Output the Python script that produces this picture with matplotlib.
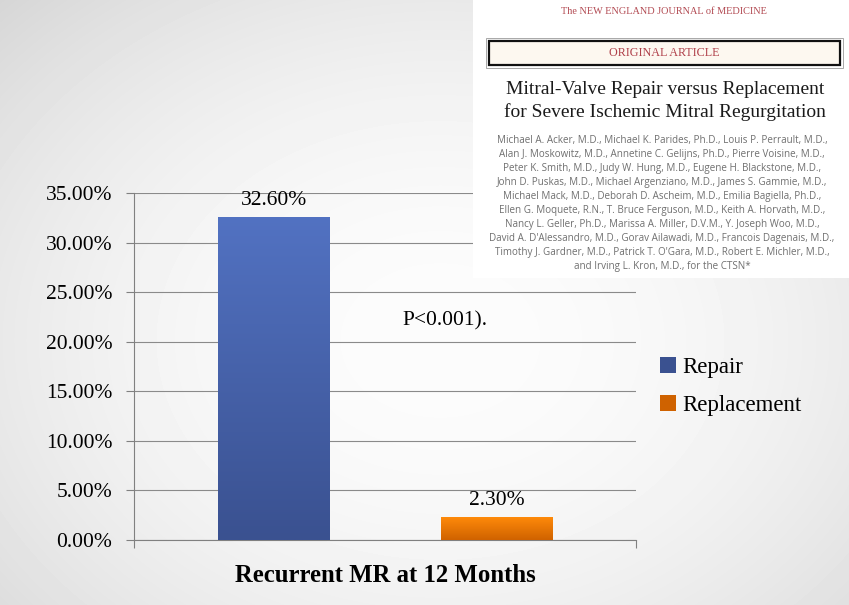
import numpy as np
import matplotlib
matplotlib.use('Agg')
import matplotlib.pyplot as plt
from matplotlib.colors import LinearSegmentedColormap
from matplotlib.patches import Rectangle

# chart data
series = ['Repair', 'Replacement']
values = [32.6, 2.3]
value_labels = ['32.60%', '2.30%']
category = 'Recurrent MR at 12 Months'
yticks = [0, 5, 10, 15, 20, 25, 30, 35]
p_note = 'P<0.001).'

# bar gradients (top, bottom)
grads = [('#5272c2', '#3a5190'), ('#ff8a0a', '#cf6200')]

# inset article header text
journal = 'The NEW ENGLAND JOURNAL of MEDICINE'
article_type = 'ORIGINAL ARTICLE'
title_lines = ['Mitral-Valve Repair versus Replacement',
               'for Severe Ischemic Mitral Regurgitation']
authors = [
    'Michael A. Acker, M.D., Michael K. Parides, Ph.D., Louis P. Perrault, M.D.,',
    'Alan J. Moskowitz, M.D., Annetine C. Gelijns, Ph.D., Pierre Voisine, M.D.,',
    'Peter K. Smith, M.D., Judy W. Hung, M.D., Eugene H. Blackstone, M.D.,',
    'John D. Puskas, M.D., Michael Argenziano, M.D., James S. Gammie, M.D.,',
    'Michael Mack, M.D., Deborah D. Ascheim, M.D., Emilia Bagiella, Ph.D.,',
    'Ellen G. Moquete, R.N., T. Bruce Ferguson, M.D., Keith A. Horvath, M.D.,',
    'Nancy L. Geller, Ph.D., Marissa A. Miller, D.V.M., Y. Joseph Woo, M.D.,',
    "David A. D'Alessandro, M.D., Gorav Ailawadi, M.D., Francois Dagenais, M.D.,",
    "Timothy J. Gardner, M.D., Patrick T. O'Gara, M.D., Robert E. Michler, M.D.,",
    'and Irving L. Kron, M.D., for the CTSN*',
]

plt.rcParams['font.family'] = ['Liberation Serif', 'DejaVu Serif']

W, H = 849, 605
fig = plt.figure(figsize=(W / 100, H / 100), dpi=100)

# slide background: soft radial gray
bg = fig.add_axes([0, 0, 1, 1], zorder=-5)
yy, xx = np.mgrid[0:H, 0:W]
r = np.sqrt(((xx - 440) / 440.0) ** 2 + ((yy - 340) / 340.0) ** 2) / 1.41
shade = np.clip(252 - 38 * r ** 2, 205, 255) / 255.0
bg.imshow(shade, cmap='gray', vmin=0, vmax=1, aspect='auto')
bg.axis('off')

# main chart
ax = fig.add_axes([134 / W, 1 - 540 / H, 502 / W, 347 / H])
ax.patch.set_alpha(0)
xpos = np.arange(len(series))
bars = ax.bar(xpos, values, width=0.502, color=[g[1] for g in grads],
              label=series, zorder=2)
ax.set_axisbelow(True)

grad = np.linspace(0, 1, 256).reshape(-1, 1)
for bar, (top, bottom) in zip(bars, grads):
    cm = LinearSegmentedColormap.from_list('g', [bottom, top])
    x0, w, h = bar.get_x(), bar.get_width(), bar.get_height()
    im = ax.imshow(grad, extent=[x0, x0 + w, 0, h], origin='lower',
                   aspect='auto', cmap=cm, zorder=3)
    im.set_clip_path(bar)

for x, v, lab in zip(xpos, values, value_labels):
    ax.annotate(lab, (x, v), xytext=(0, 5), textcoords='offset points',
                ha='center', va='bottom', fontsize=15.5)

ax.set_xlim(-0.628, 1.623)
ax.set_ylim(0, 35)
ax.set_yticks(yticks)
ax.set_yticklabels([f'{t:.2f}%' for t in yticks])
ax.set_xticks([-0.628, 1.623])
ax.set_xticklabels(['', ''])
ax.tick_params(axis='both', direction='out', length=5.5, width=0.8,
               color='#808080', labelsize=15.5, pad=10)
ax.grid(axis='y', color='#8a8a8a', linewidth=0.8)
for s in ['top', 'right']:
    ax.spines[s].set_visible(False)
for s in ['left', 'bottom']:
    ax.spines[s].set_color('#808080')
    ax.spines[s].set_linewidth(0.8)

ax.set_xlabel(category, fontsize=17.8, fontweight='bold')
ax.xaxis.set_label_coords(0.5, -0.068)

fig.text(445 / W, 1 - 321 / H, p_note, fontsize=15.5, ha='center', va='center')

leg = fig.legend(handles=list(bars), labels=series, loc='upper left',
                 bbox_to_anchor=(651 / W, 1 - 348 / H), frameon=False,
                 fontsize=16.5, handlelength=0.7, handleheight=0.7,
                 handletextpad=0.25, labelspacing=0.75, borderaxespad=0)

# article header inset
ins = fig.add_axes([473 / W, 1 - 278 / H, 376 / W, 278 / H], zorder=5)
ins.set_xlim(473, 849)
ins.set_ylim(278, 0)
ins.set_facecolor('white')
ins.set_xticks([])
ins.set_yticks([])
for s in ins.spines.values():
    s.set_visible(False)

ins.text(664, 11, journal, fontsize=7.4, color='#b24a52', ha='center',
         va='center')
ins.add_patch(Rectangle((486, 37.5), 357, 30, fill=False,
                        edgecolor='#9a9a9a', linewidth=0.6))
ins.add_patch(Rectangle((489, 41), 351, 24, facecolor='#fdf8f0',
                        edgecolor='#111111', linewidth=1.6))
ins.text(664, 53, article_type, fontsize=8.7, color='#b0404a', ha='center',
         va='center')
for i, line in enumerate(title_lines):
    ins.text(665, 90 + 22 * i, line, fontsize=14, color='#1a1a1a',
             ha='center', va='center')
for i, line in enumerate(authors):
    ins.text(662, 141 + 14 * i, line, fontsize=7.1, color='#707070',
             ha='center', va='center', family='Open Sans')

fig.savefig('out.png', dpi=100)
